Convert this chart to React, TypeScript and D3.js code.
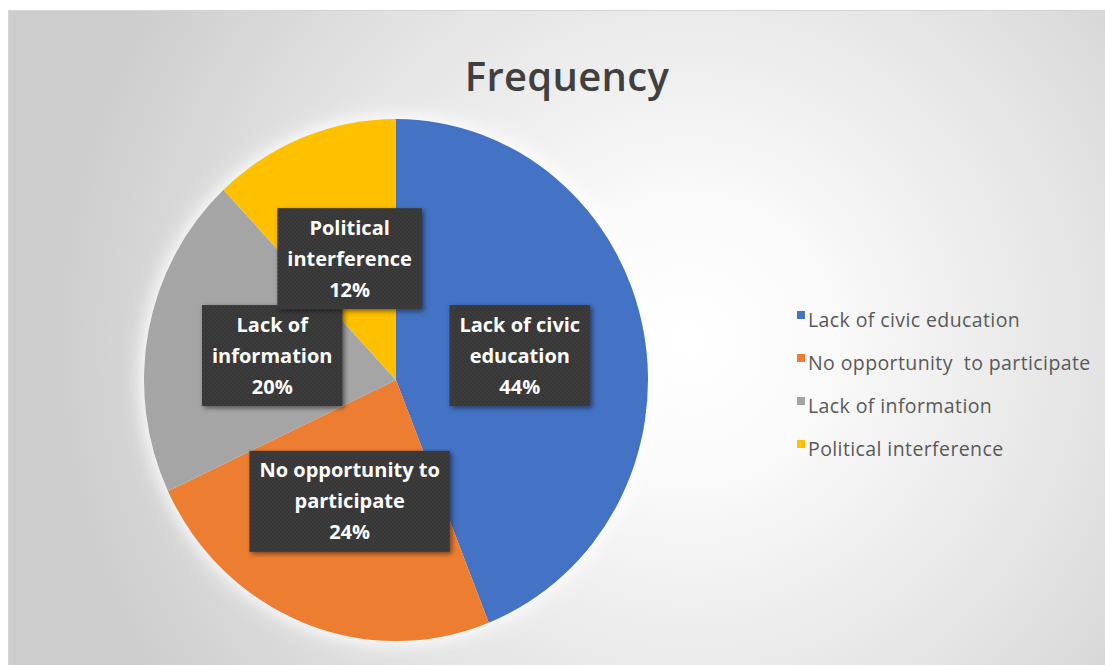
import React, { useEffect, useRef } from "react";
import * as d3 from "d3";

const categories = [
  "Lack of civic education",
  "No opportunity  to participate",
  "Lack of information",
  "Political interference",
];
const values = [44, 24, 20, 12];
const colors = ["#4472c4", "#ed7d31", "#a5a5a5", "#ffc000"];
const labelLines = [
  ["Lack of civic", "education"],
  ["No opportunity to", "participate"],
  ["Lack of", "information"],
  ["Political", "interference"],
];
const title = "Frequency";

const W = 1105;
const H = 665;

export default function App() {
  const ref = useRef<SVGSVGElement>(null);

  useEffect(() => {
    const svg = d3.select(ref.current);
    svg.selectAll("*").remove();

    const defs = svg.append("defs");
    const grad = defs
      .append("radialGradient")
      .attr("id", "bg")
      .attr("gradientUnits", "userSpaceOnUse")
      .attr("cx", 690)
      .attr("cy", 340)
      .attr("r", 640);
    grad.append("stop").attr("offset", 0).attr("stop-color", "#ffffff");
    grad.append("stop").attr("offset", 0.2).attr("stop-color", "#fbfbfb");
    grad.append("stop").attr("offset", 0.65).attr("stop-color", "#e3e3e3");
    grad.append("stop").attr("offset", 1).attr("stop-color", "#cdcdcd");

    const glow = defs.append("filter").attr("id", "glow").attr("x", -0.2).attr("y", -0.2).attr("width", 1.4).attr("height", 1.4);
    glow.append("feGaussianBlur").attr("stdDeviation", 9);

    const shadow = defs.append("filter").attr("id", "shadow").attr("x", -0.1).attr("y", -0.1).attr("width", 1.3).attr("height", 1.3);
    shadow.append("feGaussianBlur").attr("in", "SourceAlpha").attr("stdDeviation", 2.5).attr("result", "b");
    shadow.append("feOffset").attr("in", "b").attr("dx", 2).attr("dy", 2).attr("result", "o");
    shadow.append("feComponentTransfer").attr("in", "o").attr("result", "s")
      .append("feFuncA").attr("type", "linear").attr("slope", 0.5);
    const m = shadow.append("feMerge");
    m.append("feMergeNode").attr("in", "s");
    m.append("feMergeNode").attr("in", "SourceGraphic");

    const pat = defs.append("pattern").attr("id", "hatch").attr("patternUnits", "userSpaceOnUse").attr("width", 4).attr("height", 4);
    pat.append("rect").attr("width", 4).attr("height", 4).attr("fill", "#3e3e3e");
    pat.append("rect").attr("width", 2).attr("height", 2).attr("fill", "#353535");
    pat.append("rect").attr("x", 2).attr("y", 2).attr("width", 2).attr("height", 2).attr("fill", "#353535");

    svg.append("rect").attr("width", W).attr("height", H).attr("fill", "#ffffff");
    svg
      .append("rect")
      .attr("x", 8.5)
      .attr("y", 10.5)
      .attr("width", W - 8)
      .attr("height", H - 10)
      .attr("fill", "url(#bg)")
      .attr("stroke", "#d6d6d6");

    svg
      .append("text")
      .attr("x", 567)
      .attr("y", 91)
      .attr("text-anchor", "middle")
      .attr("font-family", "'Open Sans', sans-serif")
      .attr("font-size", 40)
      .attr("font-weight", 600)
      .attr("letter-spacing", 0.3)
      .attr("fill", "#404040")
      .text(title);

    const cx = 396;
    const cy = 380;
    const ry = 261;
    const rx = 252;
    const sx = rx / ry;

    const pie = d3.pie<number>().sort(null).value((d) => d);
    const arcs = pie(values);
    const arc = d3.arc<d3.PieArcDatum<number>>().innerRadius(0).outerRadius(ry);

    const g = svg.append("g").attr("transform", `translate(${cx},${cy}) scale(${sx},1)`);
    g.append("circle").attr("r", ry + 4).attr("fill", "#ffffff").attr("opacity", 0.95).attr("filter", "url(#glow)");
    g.selectAll("path.slice")
      .data(arcs)
      .join("path")
      .attr("class", "slice")
      .attr("d", arc)
      .attr("fill", (_, i) => colors[i]);

    const labelArc = d3.arc<d3.PieArcDatum<number>>().innerRadius(0).outerRadius(ry);
    const total = d3.sum(values);
    const fontFam = "'Open Sans', sans-serif";
    const lineH = 31;

    arcs.forEach((a, i) => {
      const [px, py] = labelArc.centroid(a);
      const lx = cx + px * sx;
      const ly = cy + py;
      const lines = [...labelLines[i], `${Math.round((values[i] / total) * 100)}%`];
      const lg = svg.append("g").attr("transform", `translate(${lx},${ly})`);
      const box = lg.append("rect").attr("fill", "url(#hatch)").attr("filter", "url(#shadow)");
      const t = lg
        .append("text")
        .attr("text-anchor", "middle")
        .attr("font-family", fontFam)
        .attr("font-weight", "bold")
        .attr("font-size", 20)
        .attr("fill", "#ffffff");
      lines.forEach((ln, k) => {
        t.append("tspan")
          .attr("x", 0)
          .attr("y", (k - (lines.length - 1) / 2) * lineH + 7)
          .text(ln);
      });
      const bb = (t.node() as SVGTextElement).getBBox();
      const bw = bb.width + 20;
      const bh = lines.length * lineH + 8;
      box.attr("x", -bw / 2).attr("y", -bh / 2).attr("width", bw).attr("height", bh);
    });

    const leg = svg.append("g").attr("transform", "translate(797,321)");
    categories.forEach((c, i) => {
      const row = leg.append("g").attr("transform", `translate(0,${i * 43})`);
      row.append("rect").attr("x", 0).attr("y", -10).attr("width", 8).attr("height", 8).attr("fill", colors[i]);
      row
        .append("text")
        .attr("x", 11)
        .attr("y", 0)
        .attr("dy", "0.32em")
        .attr("font-family", fontFam)
        .attr("font-size", 19.5)
        .attr("letter-spacing", 0.4)
        .attr("fill", "#595959")
        .attr("xml:space", "preserve")
        .style("white-space", "pre")
        .text(c);
    });
  }, []);

  return (
    <svg
      ref={ref}
      width={W}
      height={H}
      style={{ position: "absolute", left: 0, top: 0, display: "block" }}
    />
  );
}
